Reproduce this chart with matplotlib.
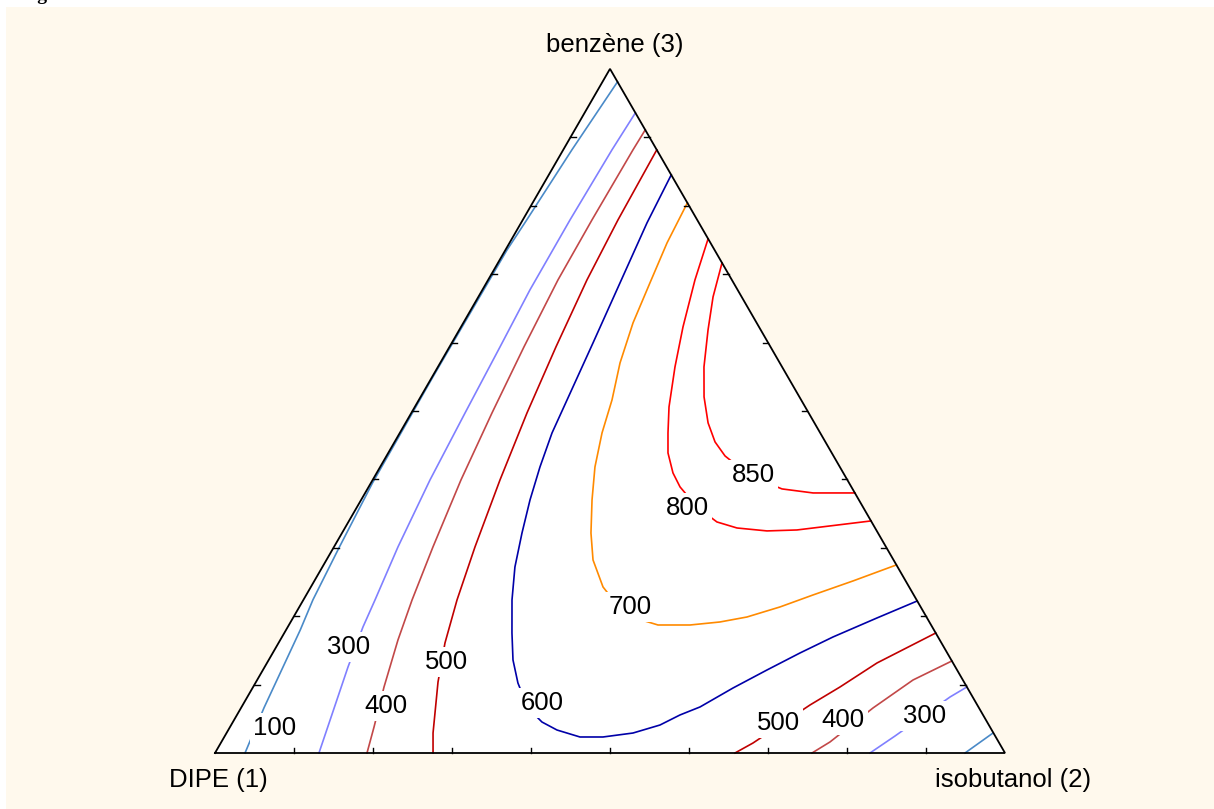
import numpy as np
import matplotlib.pyplot as plt

plt.rcParams['font.family'] = ['Liberation Sans', 'DejaVu Sans']

# contour lines, points given as (x2 isobutanol, x3 benzene)
c100_left = [(0.038, 0.0), (0.029, 0.066), (0.018, 0.180), (0.012, 0.224), (0.007, 0.30),
             (0.002, 0.395), (0.001, 0.55), (0.002, 0.735), (0.005, 0.779), (0.011, 0.882),
             (0.019, 0.981)]
c100_right = [(0.9494, 0.0), (0.9702, 0.0292)]

c300_left = [(0.1316, 0.0), (0.1055, 0.1257), (0.0952, 0.1842), (0.0907, 0.2237), (0.081, 0.3012),
             (0.0726, 0.3991), (0.068, 0.4971), (0.064, 0.5936), (0.0602, 0.6769), (0.0598, 0.7792),
             (0.0617, 0.8816), (0.0643, 0.9357)]
c300_right = [(0.8291, 0.0), (0.8484, 0.0249), (0.8895, 0.0819), (0.9035, 0.0965)]

c400_left = [(0.1924, 0.0), (0.1823, 0.038), (0.1657, 0.0965), (0.149, 0.1652), (0.1376, 0.2237),
             (0.1253, 0.3012), (0.1118, 0.3991), (0.1021, 0.4971), (0.0943, 0.5936), (0.0884, 0.6915),
             (0.0876, 0.7792), (0.0883, 0.8816), (0.0892, 0.9108)]
c400_right = [(0.7557, 0.0), (0.7704, 0.0161), (0.80, 0.0658), (0.8302, 0.1067), (0.8655, 0.1345)]

c500_left = [(0.276, 0.0), (0.2614, 0.0292), (0.2304, 0.1038), (0.2107, 0.1608), (0.1945, 0.2237),
             (0.1785, 0.3012), (0.1612, 0.3991), (0.1464, 0.4971), (0.1348, 0.5936), (0.1251, 0.6915),
             (0.1205, 0.7792), (0.1184, 0.8816)]
c500_right = [(0.6582, 0.0), (0.6737, 0.0146), (0.7181, 0.0702), (0.7429, 0.0965), (0.7722, 0.1316),
              (0.8246, 0.1754)]

c600 = [(0.155, 0.845), (0.1594, 0.7749), (0.1691, 0.6871), (0.1788, 0.5994), (0.1876, 0.5161),
        (0.1927, 0.4678), (0.2023, 0.4181), (0.2138, 0.3699), (0.2278, 0.3216), (0.2437, 0.2719),
        (0.2641, 0.2237), (0.2882, 0.1754), (0.3092, 0.136), (0.3323, 0.1023), (0.3633, 0.0658),
        (0.3912, 0.0453), (0.4161, 0.0336), (0.4503, 0.0234), (0.4794, 0.0234), (0.5145, 0.0292),
        (0.5428, 0.0409), (0.5608, 0.0556), (0.5803, 0.0673), (0.6082, 0.095), (0.638, 0.1213),
        (0.6674, 0.1462), (0.6975, 0.1696), (0.7393, 0.1974), (0.7778, 0.2222)]

c700 = [(0.1959, 0.8041), (0.1994, 0.7456), (0.207, 0.6871), (0.2148, 0.6287), (0.2276, 0.5702),
        (0.2445, 0.5161), (0.256, 0.4678), (0.2719, 0.4181), (0.2923, 0.3699), (0.3151, 0.3216),
        (0.3374, 0.2822), (0.3698, 0.2427), (0.4181, 0.2018), (0.4672, 0.1871), (0.5077, 0.1871),
        (0.5434, 0.1915), (0.574, 0.1988), (0.6085, 0.2135), (0.6415, 0.231), (0.6819, 0.2515),
        (0.7251, 0.2749)]

c800 = [(0.2484, 0.7515), (0.2618, 0.6915), (0.281, 0.6228), (0.3001, 0.5643), (0.3218, 0.5058),
        (0.3395, 0.4678), (0.3541, 0.4386), (0.375, 0.4094), (0.3942, 0.3889), (0.4303, 0.3596),
        (0.4665, 0.3377), (0.4963, 0.3289), (0.5364, 0.3246), (0.5737, 0.326), (0.6126, 0.3319),
        (0.6608, 0.3392)]

c850 = [(0.2836, 0.7164), (0.2971, 0.6667), (0.3149, 0.6184), (0.3368, 0.5643), (0.3588, 0.5205),
        (0.3829, 0.4825), (0.4056, 0.4547), (0.4285, 0.4342), (0.4747, 0.405), (0.5247, 0.386),
        (0.567, 0.3801), (0.6199, 0.3801)]

contours = [(c100_left, '#4A8AC8'), (c100_right, '#4A8AC8'),
            (c300_left, '#8080FF'), (c300_right, '#8080FF'),
            (c400_left, '#C24848'), (c400_right, '#C24848'),
            (c500_left, '#C00000'), (c500_right, '#C00000'),
            (c600, '#0000A8'), (c700, '#FF8A00'),
            (c800, '#FF0000'), (c850, '#FF0000')]

# contour labels: text, x2, x3
label_text = ['100', '300', '400', '500', '600', '700', '800', '850', '500', '400', '300']
label_x2 = [0.0577, 0.0921, 0.1821, 0.2259, 0.3774, 0.4186, 0.4184, 0.4778, 0.6908, 0.7708, 0.8717]
label_x3 = [0.0365, 0.155, 0.0687, 0.133, 0.0731, 0.2135, 0.3582, 0.4064, 0.0439, 0.0482, 0.0541]

corner_names = ['DIPE (1)', 'isobutanol (2)', 'benzène (3)']


def tern(x2, x3):
    x2 = np.asarray(x2, dtype=float)
    x3 = np.asarray(x3, dtype=float)
    return x2 + 0.5 * x3, x3 * np.sqrt(3) / 2


fig = plt.figure(figsize=(12.14, 8.09), dpi=100)
fig.patch.set_facecolor('white')

# cream panel behind the diagram
bg = fig.add_axes([6 / 1214, 0, 1 - 6 / 1214, 1 - 7 / 809])
bg.set_facecolor('#FFF9ED')
bg.set_xticks([])
bg.set_yticks([])
for s in bg.spines.values():
    s.set_visible(False)

fig.text(20 / 1214, 1 - 0.5 / 809, 'Figure 5 a', family='Liberation Serif', weight='bold',
         fontsize=14, va='baseline', ha='left')

ax = fig.add_axes([0, 0, 1, 1])
ax.set_xlim(-215 / 790, (1214 - 215) / 790)
ax.set_ylim(-(809 - 753) / 790, 753 / 790)
ax.axis('off')

h = np.sqrt(3) / 2
ax.fill([0, 1, 0.5], [0, 0, h], color='white', zorder=1)
ax.plot([0, 1, 0.5, 0], [0, 0, h, 0], color='black', lw=1.3, zorder=5, solid_joinstyle='miter')

# inward ticks every 0.1
t = np.arange(1, 10) / 10
tl = 0.0065
for v in t:
    ax.plot([v, v], [0, tl], color='black', lw=1, zorder=5)
    lx, ly = tern(0, v)
    ax.plot([lx, lx + tl], [ly, ly], color='black', lw=1, zorder=5)
    rx, ry = tern(1 - v, v)
    ax.plot([rx, rx - tl], [ry, ry], color='black', lw=1, zorder=5)

for pts, col in contours:
    x2, x3 = zip(*pts)
    X, Y = tern(x2, x3)
    ax.plot(X, Y, color=col, lw=1.2, zorder=2, solid_joinstyle='round')

for txt, a, b in zip(label_text, label_x2, label_x3):
    X, Y = tern(a, b)
    ax.text(X, Y, txt, fontsize=18.5, ha='center', va='center', zorder=3,
            bbox=dict(boxstyle='square,pad=0.12', fc='white', ec='none'))

ax.text(0.5063, 0.8962, corner_names[2], fontsize=18.5, ha='center', va='center')
ax.text(0.0038, -0.0342, corner_names[0], fontsize=18.5, ha='center', va='center')
ax.text(1.0101, -0.0342, corner_names[1], fontsize=18.5, ha='center', va='center')

fig.savefig('out.png', dpi=100, facecolor=fig.get_facecolor())
